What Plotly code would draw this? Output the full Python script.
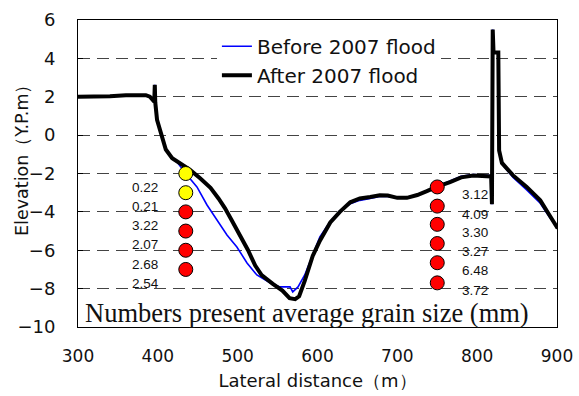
import plotly.graph_objects as go

# Cross-section survey: lateral distance (m) vs elevation (Y.P.m)
before_x = [292, 320, 340, 360, 375, 385, 390, 395.5, 396.2, 396.8, 399, 405, 410, 418, 425,
            436.5, 449, 461.6, 474, 486.6, 499, 511.7, 524, 540.5, 553, 565.6, 569, 575.6,
            584, 594, 603, 616, 628, 641, 653, 666, 678, 688, 700, 712, 725, 737, 750, 766,
            780, 795, 816, 817.5, 818.5, 819.5, 820.5, 826.5, 827.5, 831, 845, 862, 879, 891,
            900, 906]
before_y = [2.0, 2.0, 2.03, 2.08, 2.1, 2.08, 2.0, 1.75, 2.62, 1.7, 0.8, -0.1, -0.75, -1.2, -1.45,
            -2.08, -2.7, -3.64, -4.42, -5.2, -5.83, -6.66, -7.29, -7.7, -7.91, -7.91, -8.17, -7.91,
            -7.29, -6.2, -5.3, -4.5, -3.95, -3.58, -3.4, -3.3, -3.2, -3.2, -3.28, -3.25, -3.1, -2.9,
            -2.68, -2.4, -2.15, -2.05, -2.1, -2.15, -3.6, 5.5, 4.3, 4.3, -0.8, -1.5, -2.2, -2.85,
            -3.55, -4.3, -4.8, -5.1]

after_x = [292, 320, 340, 360, 375, 385, 390, 395.5, 396.2, 396.8, 399, 405, 410, 418, 425,
           440, 453, 466, 476, 484, 492, 500, 513, 522, 530, 544, 556, 565, 572, 577, 584,
           594, 603, 616, 628, 641, 653, 666, 678, 688, 700, 712, 725, 737, 750, 766, 780,
           795, 816, 817.5, 818.5, 819.5, 820.5, 826.5, 827.5, 831, 845, 862, 879, 891, 900,
           906]
after_y = [2.0, 2.0, 2.03, 2.08, 2.1, 2.08, 2.0, 1.75, 2.62, 1.7, 0.8, -0.1, -0.75, -1.2, -1.4,
           -1.8, -2.25, -2.75, -3.3, -3.8, -4.4, -5.0, -6.0, -6.8, -7.3, -7.75, -8.1, -8.5,
           -8.55, -8.4, -7.6, -6.3, -5.5, -4.55, -4.0, -3.5, -3.3, -3.22, -3.13, -3.15, -3.27,
           -3.27, -3.12, -2.92, -2.68, -2.45, -2.2, -2.1, -2.1, -2.15, -3.6, 5.5, 4.3, 4.3,
           -0.8, -1.45, -2.1, -2.7, -3.4, -4.2, -4.8, -4.85]

# Bed-material sampling points and their average grain sizes (mm)
left_x = 435
left_y = [-2, -3, -4, -5, -6, -7]
left_size = ["0.22", "0.21", "3.22", "2.07", "2.68", "2.54"]
left_color = ["#FFFF00", "#FFFF00", "#FF0000", "#FF0000", "#FF0000", "#FF0000"]

right_x = 750
right_y = [-2.7, -3.7, -4.65, -5.65, -6.65, -7.7]
right_size = ["3.12", "4.09", "3.30", "3.27", "6.48", "3.72"]
right_color = ["#FF0000"] * 6

x_ticks = [300, 400, 500, 600, 700, 800, 900]
y_ticks = [-10, -8, -6, -4, -2, 0, 2, 4, 6]

SANS = "DejaVu Sans"

fig = go.Figure()
fig.add_trace(go.Scatter(x=before_x, y=before_y, mode="lines", name="Before 2007 flood",
                         line=dict(color="#0000FF", width=1.6)))
fig.add_trace(go.Scatter(x=after_x, y=after_y, mode="lines", name="After 2007 flood",
                         line=dict(color="#000000", width=4)))

for xs, ys, cols in ((left_x, left_y, left_color), (right_x, right_y, right_color)):
    fig.add_trace(go.Scatter(x=[xs] * len(ys), y=ys, mode="markers", showlegend=False,
                             marker=dict(size=14, color=cols,
                                         line=dict(color="black", width=1))))

annotations = []
for v, s in zip(left_y, left_size):
    annotations.append(dict(x=384, y=v - 0.72, text=s, showarrow=False,
                            font=dict(family="Liberation Sans", size=13.5, color="#111")))
for v, s in zip(right_y, right_size):
    annotations.append(dict(x=797, y=v - 0.42, text=s, showarrow=False,
                            font=dict(family="Liberation Sans", size=13.5, color="#111")))
annotations.append(dict(x=306, y=-9.25, xanchor="left", yanchor="middle",
                        text="Numbers present average grain size (mm)", showarrow=False,
                        font=dict(family="Liberation Serif", size=26.5, color="#111")))
# vertical axis title
annotations.append(dict(xref="paper", yref="paper", x=-0.117, y=0.557,
                        xanchor="center", yanchor="middle", textangle=-90,
                        text="Elevation（Y.P.m）", showarrow=False,
                        font=dict(family=SANS, size=17.5, color="#111")))

fig.update_layout(
    width=579, height=396,
    margin=dict(l=78, r=22, t=20, b=69, autoexpand=False),
    paper_bgcolor="white", plot_bgcolor="white",
    font=dict(family=SANS, size=17, color="#111"),
    showlegend=True,
    legend=dict(x=0.29, y=0.978, xanchor="left", yanchor="top",
                bgcolor="white", borderwidth=0,
                font=dict(family=SANS, size=20, color="#111"),
                tracegroupgap=0),
    annotations=annotations,
    xaxis=dict(range=[300, 900], tickvals=x_ticks, showgrid=False, zeroline=False,
               showline=True, mirror=True, linecolor="black", linewidth=1,
               ticks="", ticklabelstandoff=14, automargin=False,
               title=dict(text="Lateral distance（m）", standoff=8,
                          font=dict(family=SANS, size=18))),
    yaxis=dict(range=[-10, 6], tickvals=y_ticks, zeroline=False,
               showgrid=True, gridcolor="#444", gridwidth=1, griddash="12px,7px",
               showline=True, mirror=True, linecolor="black", linewidth=1,
               ticks="inside", ticklen=5, tickcolor="black", ticklabelstandoff=18,
               tickfont=dict(size=18), automargin=False),
)

fig.write_html("out.html")
